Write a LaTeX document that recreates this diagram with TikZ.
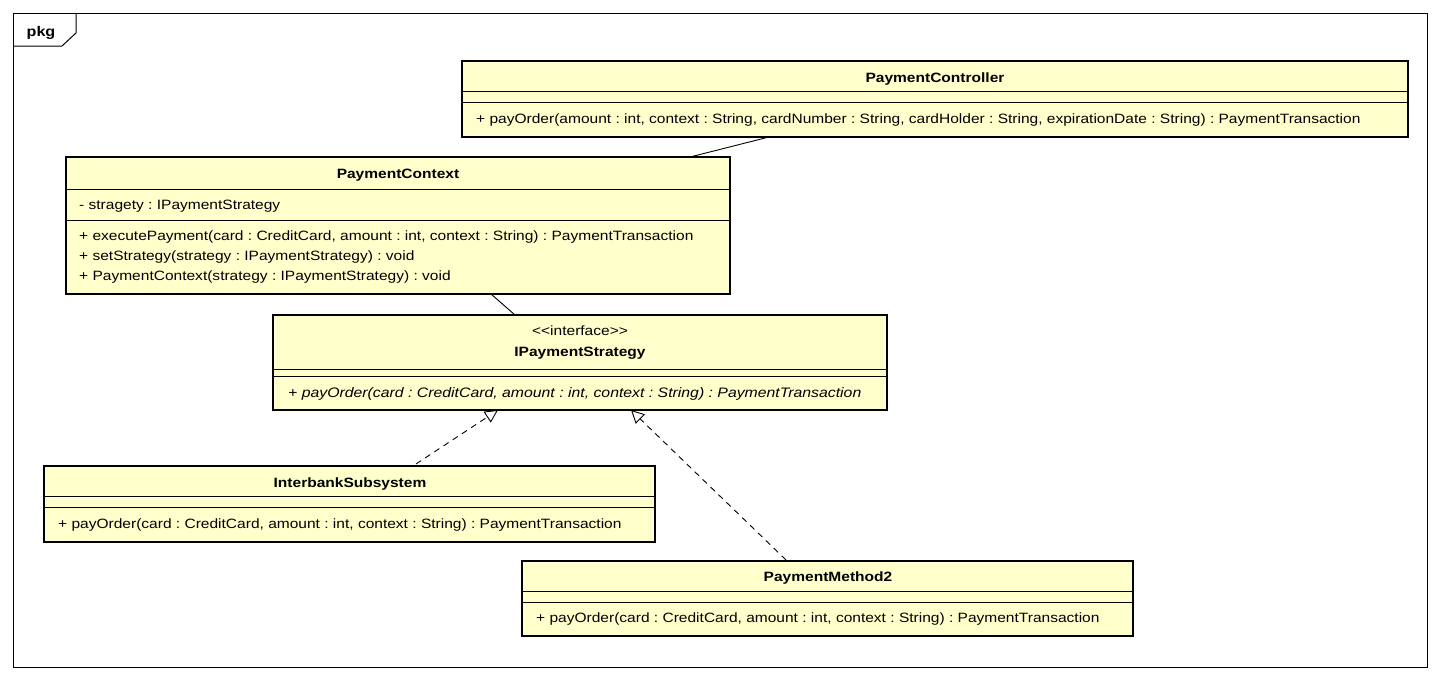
\documentclass[tikz,border=0pt]{standalone}
\usepackage{fontspec}
\setmainfont{Liberation Sans}[FakeStretch=1.15]
\usetikzlibrary{arrows.meta,calc}
\definecolor{classfill}{HTML}{FFFFCC}
\frenchspacing
\begin{document}
\begin{tikzpicture}[x=1pt,y=-1pt,
  classbox/.style={draw, line width=2.6pt, fill=classfill, inner sep=0pt, outer sep=0pt, anchor=north west},
  sep/.style={line width=0.9pt},
  title/.style={font=\fontsize{13.5}{15}\selectfont\bfseries, anchor=base, inner sep=0pt},
  stereo/.style={font=\fontsize{13.5}{15}\selectfont, anchor=base, inner sep=0pt},
  member/.style={font=\fontsize{13.5}{15}\selectfont, anchor=base west, inner sep=0pt},
  absmember/.style={font=\fontsize{13.75}{15}\selectfont\itshape, anchor=base west, inner sep=0pt},
  link/.style={line width=0.9pt},
  realize/.style={line width=0.9pt, dash pattern=on 6pt off 5pt,
    -{Triangle[open, length=13pt, width=13pt, fill=white, line width=0.9pt]}}
]
\useasboundingbox (0,0) rectangle (1440,680);
\fill[white] (0,0) rectangle (1440,680);

% package frame with its name tab
\draw[line width=1pt] (13,13) rectangle (1427,667);
\draw[line width=1pt] (13,46) -- (62,46) -- (76,33) -- (76,13);
\node[title, font=\fontsize{14}{16}\selectfont\bfseries] (pkg) at (41,36) {pkg};

% PaymentController
\node[classbox, minimum width=946pt, minimum height=76pt] (ctrl) at (462,61) {};
\draw[sep] (462,91) -- (1408,91);
\draw[sep] (462,102) -- (1408,102);
\node[title] (ctrlname) at (935,82) {PaymentController};
\node[member] (ctrlop) at (476,123) {+ payOrder(amount : int, context : String, cardNumber : String, cardHolder : String, expirationDate : String) : PaymentTransaction};

% PaymentContext
\node[classbox, minimum width=664pt, minimum height=137pt] (ctx) at (66,157) {};
\draw[sep] (66,189) -- (730,189);
\draw[sep] (66,220) -- (730,220);
\node[title] (ctxname) at (398,178) {PaymentContext};
\node[member] (ctxattr) at (79,209) {- stragety : IPaymentStrategy};
\node[member] (ctxop1) at (79,240) {+ executePayment(card : CreditCard, amount : int, context : String) : PaymentTransaction};
\node[member] (ctxop2) at (79,260) {+ setStrategy(strategy : IPaymentStrategy) : void};
\node[member] (ctxop3) at (79,280) {+ PaymentContext(strategy : IPaymentStrategy) : void};

% IPaymentStrategy
\node[classbox, minimum width=614pt, minimum height=95pt] (strat) at (273,315) {};
\draw[sep] (273,369) -- (887,369);
\draw[sep] (273,376) -- (887,376);
\node[stereo] (stratstereo) at (580,335) {<\kern0pt<interface>\kern0pt>};
\node[title] (stratname) at (580,356) {IPaymentStrategy};
\node[absmember] (stratop) at (288,397) {+ payOrder(card : CreditCard, amount : int, context : String) : PaymentTransaction};

% InterbankSubsystem
\node[classbox, minimum width=611pt, minimum height=76pt] (ib) at (44,466) {};
\draw[sep] (44,496) -- (655,496);
\draw[sep] (44,507) -- (655,507);
\node[title] (ibname) at (350,487) {InterbankSubsystem};
\node[member] (ibop) at (58,528) {+ payOrder(card : CreditCard, amount : int, context : String) : PaymentTransaction};

% PaymentMethod2
\node[classbox, minimum width=611pt, minimum height=75pt] (pm) at (522,561) {};
\draw[sep] (522,591) -- (1133,591);
\draw[sep] (522,602) -- (1133,602);
\node[title] (pmname) at (828,581) {PaymentMethod2};
\node[member] (pmop) at (536,622) {+ payOrder(card : CreditCard, amount : int, context : String) : PaymentTransaction};

% associations
\draw[link] ($(ctrl.south west)+(307,0)$) -- ($(ctx.north west)+(624,0)$);
\draw[link] ($(ctx.south west)+(425,0)$) -- ($(strat.north west)+(242,0)$);

% realizations
\draw[realize] ($(ib.north west)+(372,-2)$) -- ($(strat.south west)+(225,0)$);
\draw[realize] ($(pm.north west)+(264,-1)$) -- ($(strat.south west)+(358,0)$);
\end{tikzpicture}
\end{document}
